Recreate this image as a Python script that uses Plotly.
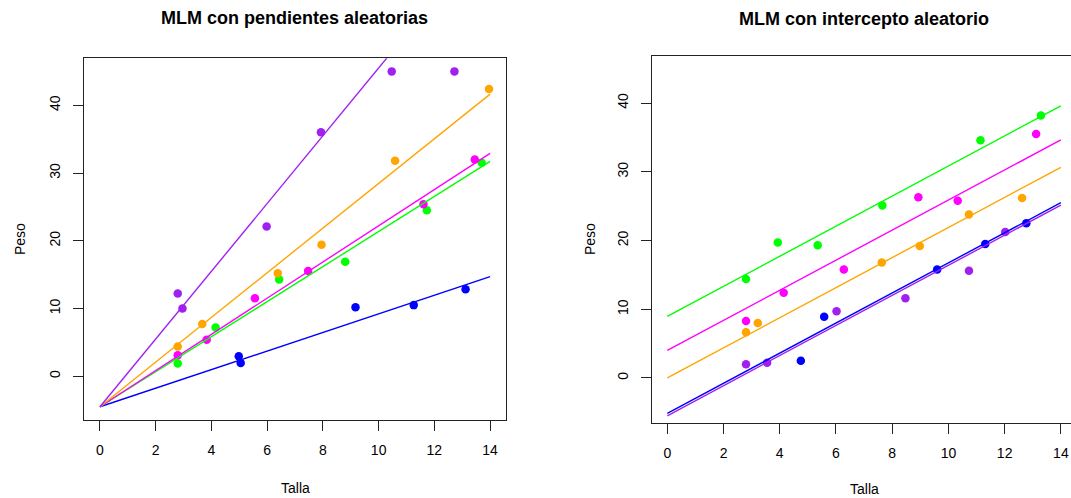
import plotly.graph_objects as go

# ---------------- data ----------------
colors = {"blue": "#0000FF", "green": "#00FF00", "magenta": "#FF00FF",
          "orange": "#FFA500", "purple": "#A020F0"}
groups = ["blue", "green", "magenta", "orange", "purple"]

# Left panel: random slopes
left_x_blue = [4.98, 5.05, 9.17, 11.26, 13.12]
left_y_blue = [2.95, 1.95, 10.2, 10.5, 12.85]
left_x_green = [2.79, 4.15, 6.43, 8.80, 11.73, 13.70]
left_y_green = [1.9, 7.2, 14.3, 16.9, 24.5, 31.5]
left_x_magenta = [2.79, 3.83, 5.56, 7.47, 11.61, 13.45]
left_y_magenta = [3.1, 5.4, 11.5, 15.55, 25.4, 32.0]
left_x_orange = [2.79, 3.67, 6.38, 7.95, 10.59, 13.96]
left_y_orange = [4.4, 7.7, 15.2, 19.4, 31.8, 42.4]
left_x_purple = [2.79, 2.96, 5.98, 7.93, 10.47, 12.72]
left_y_purple = [12.2, 10.0, 22.1, 36.0, 45.0, 45.0]
left_intercepts = [-4.5, -4.5, -4.5, -4.5, -4.5]
left_slopes = [1.371, 2.586, 2.671, 3.296, 5.0]

# Right panel: random intercepts
right_x_blue = [4.75, 5.58, 9.60, 11.31, 12.77]
right_y_blue = [2.5, 8.9, 15.8, 19.5, 22.5]
right_x_green = [2.80, 3.93, 5.35, 7.65, 11.14, 13.29]
right_y_green = [14.4, 19.7, 19.3, 25.1, 34.6, 38.2]
right_x_magenta = [2.80, 4.14, 6.28, 8.93, 10.33, 13.12]
right_y_magenta = [8.3, 12.4, 15.8, 26.3, 25.8, 35.5]
right_x_orange = [2.80, 3.22, 7.63, 8.98, 10.73, 12.62]
right_y_orange = [6.65, 8.0, 16.8, 19.2, 23.8, 26.2]
right_x_purple = [2.80, 3.55, 6.02, 8.47, 10.73, 12.02]
right_y_purple = [2.0, 2.2, 9.7, 11.6, 15.6, 21.25]
right_intercepts = [-5.15, 8.95, 4.0, 0.0, -5.5]
right_slopes = [2.19, 2.19, 2.19, 2.19, 2.19]

line_x = [0, 14]
x_ticks = [0, 2, 4, 6, 8, 10, 12, 14]
y_ticks = [0, 10, 20, 30, 40]
titles = ["MLM con pendientes aleatorias", "MLM con intercepto aleatorio"]
x_label = "Talla"
y_label = "Peso"

left_pts = {
    "blue": (left_x_blue, left_y_blue), "green": (left_x_green, left_y_green),
    "magenta": (left_x_magenta, left_y_magenta), "orange": (left_x_orange, left_y_orange),
    "purple": (left_x_purple, left_y_purple)}
right_pts = {
    "blue": (right_x_blue, right_y_blue), "green": (right_x_green, right_y_green),
    "magenta": (right_x_magenta, right_y_magenta), "orange": (right_x_orange, right_y_orange),
    "purple": (right_x_purple, right_y_purple)}

# ---------------- figure ----------------
fig = go.Figure()
FONT = "Liberation Sans, Arial, Helvetica, sans-serif"

for pts, ints, slopes, xa, ya in [(left_pts, left_intercepts, left_slopes, "x", "y"),
                                  (right_pts, right_intercepts, right_slopes, "x2", "y2")]:
    for g in groups:
        xs, ys = pts[g]
        fig.add_trace(go.Scatter(x=xs, y=ys, mode="markers", xaxis=xa, yaxis=ya,
                                 marker=dict(color=colors[g], size=8.5, line=dict(width=0)),
                                 showlegend=False, hoverinfo="skip"))
    for g, b0, b1 in zip(groups, ints, slopes):
        fig.add_trace(go.Scatter(x=line_x, y=[b0 + b1 * v for v in line_x], mode="lines",
                                 xaxis=xa, yaxis=ya,
                                 line=dict(color=colors[g], width=1.4),
                                 showlegend=False, hoverinfo="skip"))

W, H = 1071, 498


def px(xp):
    return xp / W


def py(yp):
    return 1 - yp / H


common_x = dict(tickmode="array", tickvals=x_ticks, ticks="outside", ticklen=10,
                tickwidth=1, tickcolor="#222", showgrid=False, zeroline=False,
                showline=True, linecolor="#222", linewidth=1, ticklabeloverflow="allow",
                tickfont=dict(family=FONT, size=14, color="#000"), ticklabelstandoff=7)
common_y = dict(tickmode="array", tickvals=y_ticks, ticks="outside", ticklen=10,
                tickwidth=1, tickcolor="#222", showgrid=False, zeroline=False,
                showline=True, linecolor="#222", linewidth=1, tickangle=-90,
                tickfont=dict(family=FONT, size=14, color="#000"), ticklabelstandoff=7)

fig.update_layout(
    width=W, height=H, margin=dict(l=0, r=0, t=0, b=0),
    paper_bgcolor="white", plot_bgcolor="white",
    xaxis=dict(common_x, domain=[px(84), px(505.7)], range=[-0.574, 14.56],
               anchor="y", mirror=True),
    yaxis=dict(common_y, domain=[py(420.3), py(58.3)], range=[-6.5, 46.93],
               anchor="x", mirror=True),
    xaxis2=dict(common_x, domain=[px(651.7), 1.0], range=[-0.555, 14.36],
                anchor="y2", mirror=True),
    yaxis2=dict(common_y, domain=[py(422.7), py(55.7)], range=[-6.51, 46.9],
                anchor="x2", mirror=False),
)

annots = [
    dict(text="<b>%s</b>" % titles[0], x=px(294.9), y=py(18), size=18),
    dict(text="<b>%s</b>" % titles[1], x=px(863.5), y=py(19), size=18),
    dict(text=x_label, x=px(295), y=py(488), size=14),
    dict(text=x_label, x=px(864), y=py(489), size=14),
    dict(text=y_label, x=px(20), y=py(239), size=14, angle=-90),
    dict(text=y_label, x=px(590), y=py(239), size=14, angle=-90),
]
for a in annots:
    fig.add_annotation(text=a["text"], x=a["x"], y=a["y"], xref="paper", yref="paper",
                       xanchor="center", yanchor="middle", showarrow=False,
                       textangle=a.get("angle", 0),
                       font=dict(family=FONT, size=a["size"], color="#000"))

# remove the browser's default 8px body margin so the figure fills the window exactly
fig.write_html("out.html",
               config={"displayModeBar": False, "staticPlot": True},
               post_script="document.body.style.margin='0';"
                           "document.body.style.overflow='hidden';")
